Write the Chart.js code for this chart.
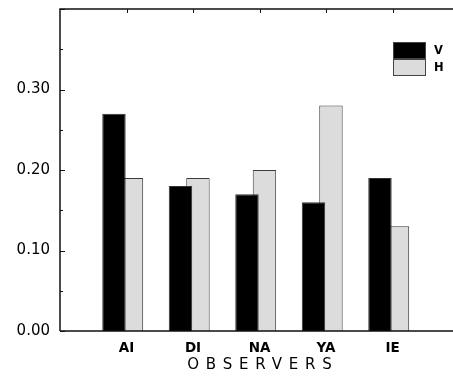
<!DOCTYPE html>
<html>
<head>
<meta charset="utf-8">
<script src="https://cdn.jsdelivr.net/npm/chart.js@4.4.1/dist/chart.umd.min.js"></script>
<style>
  html, body { margin: 0; padding: 0; background: #fff; overflow: hidden; }
  #wrap { width: 470px; height: 379px; }
</style>
</head>
<body>
<div id="wrap"><canvas id="barChart" width="470" height="379"></canvas></div>
<script>
const observers = ["AI", "DI", "NA", "YA", "IE"];
const seriesNames = ["V", "H"];
const valuesV = [0.27, 0.18, 0.17, 0.16, 0.19];
const valuesH = [0.19, 0.19, 0.2, 0.28, 0.13];
const yTicks = [0, 0.1, 0.2, 0.3];

const FONT = "'DejaVu Sans', 'Liberation Sans', sans-serif";

const noPad = (s) => {
  s.paddingTop = 0;
  s.paddingBottom = 0;
  s.paddingLeft = 0;
  s.paddingRight = 0;
};

// frame, inward ticks, legend and axis title
const framePlugin = {
  id: "frame",
  afterDraw(chart) {
    const ctx = chart.ctx;
    const a = chart.chartArea;
    const y = chart.scales.y;
    const x = chart.scales.x;
    ctx.save();
    ctx.strokeStyle = "#111";
    ctx.lineWidth = 1.5;
    ctx.beginPath();
    ctx.moveTo(a.left, a.bottom);
    ctx.lineTo(a.left, a.top);
    ctx.lineTo(a.right + 2, a.top);
    ctx.moveTo(a.left, a.bottom);
    ctx.lineTo(a.right + 2, a.bottom);
    ctx.stroke();

    ctx.lineWidth = 1;
    ctx.beginPath();
    y.ticks.forEach((t) => {
      const py = Math.round(y.getPixelForValue(t.value)) + 0.5;
      const major = Math.abs(t.value * 10 - Math.round(t.value * 10)) < 1e-6;
      ctx.moveTo(a.left, py);
      ctx.lineTo(a.left + (major ? 5 : 3), py);
    });
    observers.forEach((c, i) => {
      const px = Math.round(x.getPixelForValue(i + 1)) + 0.5;
      ctx.moveTo(px, a.top);
      ctx.lineTo(px, a.top + 4);
    });
    ctx.stroke();

    // legend
    const lx = 393, ly = 42, bw = 33, bh = 17;
    chart.data.datasets.forEach((ds, i) => {
      ctx.fillStyle = ds.backgroundColor;
      ctx.fillRect(lx, ly + i * bh, bw, bh);
      ctx.strokeStyle = "#444";
      ctx.strokeRect(lx + 0.5, ly + i * bh + 0.5, bw - 1, bh - 1);
      ctx.fillStyle = "#000";
      ctx.font = "bold 11.5px " + FONT;
      ctx.textAlign = "left";
      ctx.textBaseline = "middle";
      ctx.fillText(ds.label, lx + bw + 8, ly + i * bh + bh / 2 + 0.5);
    });

    // axis title, letter spaced
    const title = "OBSERVERS";
    const sp = 6.8;
    ctx.fillStyle = "#000";
    ctx.font = "15px " + FONT;
    ctx.letterSpacing = sp + "px";
    ctx.textAlign = "left";
    ctx.textBaseline = "middle";
    const w = ctx.measureText(title).width - sp;
    ctx.fillText(title, x.getPixelForValue(3) - w / 2, 365);
    ctx.restore();
  },
};

new Chart(document.getElementById("barChart"), {
  type: "bar",
  data: {
    datasets: [
      {
        label: seriesNames[0],
        data: observers.map((c, i) => ({ x: i + 1, y: valuesV[i] })),
        backgroundColor: "#000000",
        borderColor: "#333333",
        borderWidth: 1,
        xAxisID: "xb",
      },
      {
        label: seriesNames[1],
        data: observers.map((c, i) => ({ x: i + 1, y: valuesH[i] })),
        backgroundColor: "#dcdcdc",
        borderColor: "#3c3c3c",
        borderWidth: 1,
        xAxisID: "xb",
      },
    ],
  },
  options: {
    responsive: false,
    animation: false,
    categoryPercentage: 0.526,
    barPercentage: 1.34,
    layout: { padding: { top: 9, right: 11, left: 0, bottom: 0 } },
    plugins: { legend: { display: false }, tooltip: { enabled: false } },
    scales: {
      xb: {
        type: "linear",
        display: false,
        offset: false,
        min: 0.057,
        max: 6.057,
        ticks: { stepSize: 1, includeBounds: false },
      },
      x: {
        type: "linear",
        position: "bottom",
        offset: false,
        min: 0,
        max: 6,
        grid: { display: false, drawTicks: false, offset: false },
        border: { display: false },
        ticks: {
          stepSize: 1,
          autoSkip: false,
          maxRotation: 0,
          padding: 9,
          color: "#000",
          font: { family: FONT, size: 13.5, weight: "bold" },
          callback: (v) => observers[v - 1] || "",
        },
        afterFit: (s) => { s.height = 48; noPad(s); },
      },
      y: {
        min: 0,
        max: 0.4,
        grid: { display: false, drawTicks: false },
        border: { display: false },
        ticks: {
          stepSize: 0.05,
          padding: 10,
          color: "#000",
          font: { family: FONT, size: 15 },
          callback: (v) => {
            const hit = yTicks.find((t) => Math.abs(t - v) < 1e-6);
            return hit === undefined ? "" : hit.toFixed(2);
          },
        },
        afterFit: (s) => { s.width = 60; noPad(s); },
      },
    },
  },
  plugins: [framePlugin],
});
</script>
</body>
</html>
